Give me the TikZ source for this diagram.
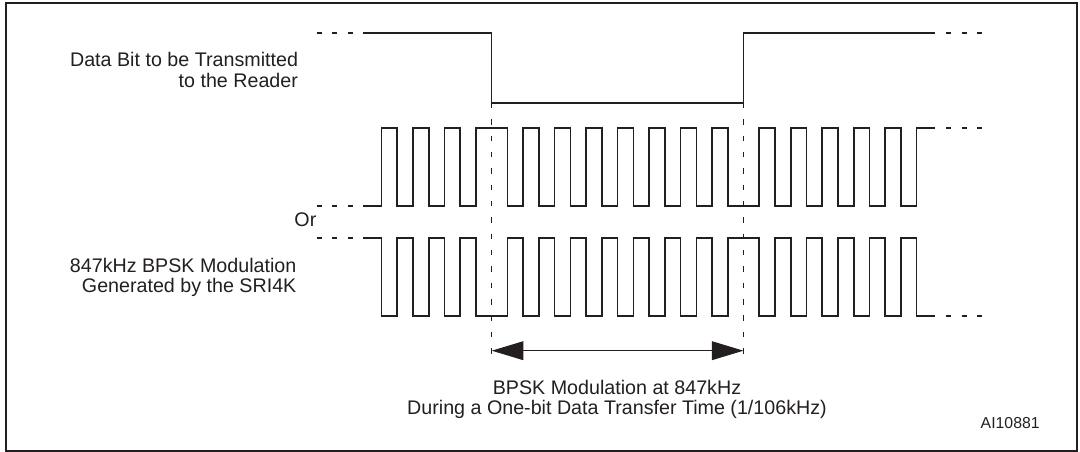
\documentclass[tikz,border=0pt]{standalone}
\usepackage{fontspec}
\setmainfont{Liberation Sans}
\usetikzlibrary{arrows.meta}
\definecolor{ink}{HTML}{231F20}

\begin{document}
\begin{tikzpicture}[
    x=0.02cm, y=-0.02cm,
    font=\fontsize{11.2}{11.7}\selectfont,
    text=ink,
    lbl/.style={inner sep=0pt, align=right, anchor=base east},
    frame/.style={draw=ink, line width=1.1pt},
    wave/.style={draw=ink, line width=0.9pt},
    cont/.style={draw=ink, line width=0.9pt, dash pattern=on 2.85pt off 6pt},
    marker/.style={draw=ink, line width=0.9pt, dash pattern=on 3.1pt off 6.2pt},
    span/.style={{Triangle[length=18pt,width=10.6pt]}-{Triangle[length=18pt,width=10.6pt]}, draw=ink, line width=0.9pt}
]
    \useasboundingbox (0,0) rectangle (1080,452);
    \draw[frame] (6,3) rectangle (1077,451);

    % bit boundaries
    \coordinate (flipA) at (491.7,103);
    \coordinate (flipB) at (743.5,103);
    \coordinate (spanA) at (491.7,350.7);
    \coordinate (spanB) at (743.5,350.7);

    % data bit
    \draw[cont] (316.7,33) -- (355,33);
    \draw[wave] (363,33) -| (flipA) -| (743.5,33) -- (935,33);
    \draw[cont] (946,33) -- (982,33);

    % the two possible carrier phases
    \foreach \base/\peak in {206/128, 238/316} {
        \draw[cont] (316.7,\base) -- (355,\base);
        \draw[wave] (363,\base)
            foreach \k in {-7,-5,-3} { -| ({491.7+\k*15.74},\peak) -| ({491.7+(\k+1)*15.74},\base) }
            -| ({491.7-15.74},\peak)
            foreach \k in {1,3,...,13} { -| ({491.7+\k*15.74},\base) -| ({491.7+(\k+1)*15.74},\peak) }
            -| ({491.7+15*15.74},\base)
            foreach \k in {17,19,...,25} { -| ({491.7+\k*15.74},\peak) -| ({491.7+(\k+1)*15.74},\base) }
            -| ({491.7+27*15.74},\peak) -- (935,\peak);
        \draw[cont] (946,\peak) -- (982,\peak);
    }

    \draw[marker] (flipA) -- (491.7,363);
    \draw[marker] (flipB) -- (743.5,363);
    \draw[span] (spanA) -- (spanB);

    \node[lbl] (bitlbl) at (298.3,87.3) {Data Bit to be Transmitted\\to the Reader};
    \node[lbl] (orlbl) at (316.7,226.7) {Or};
    \node[lbl] (modlbl) at (296.7,292.7) {847kHz BPSK Modulation\\Generated by the SRI4K};
    \node[inner sep=0pt, align=center, anchor=base] (spanlbl) at (617,415) {BPSK Modulation at 847kHz\\During a One-bit Data Transfer Time (1/106kHz)};
    \node[inner sep=0pt, anchor=base east, font=\fontsize{9}{10}\selectfont] (figid) at (1040,428.3) {AI10881};
\end{tikzpicture}
\end{document}
